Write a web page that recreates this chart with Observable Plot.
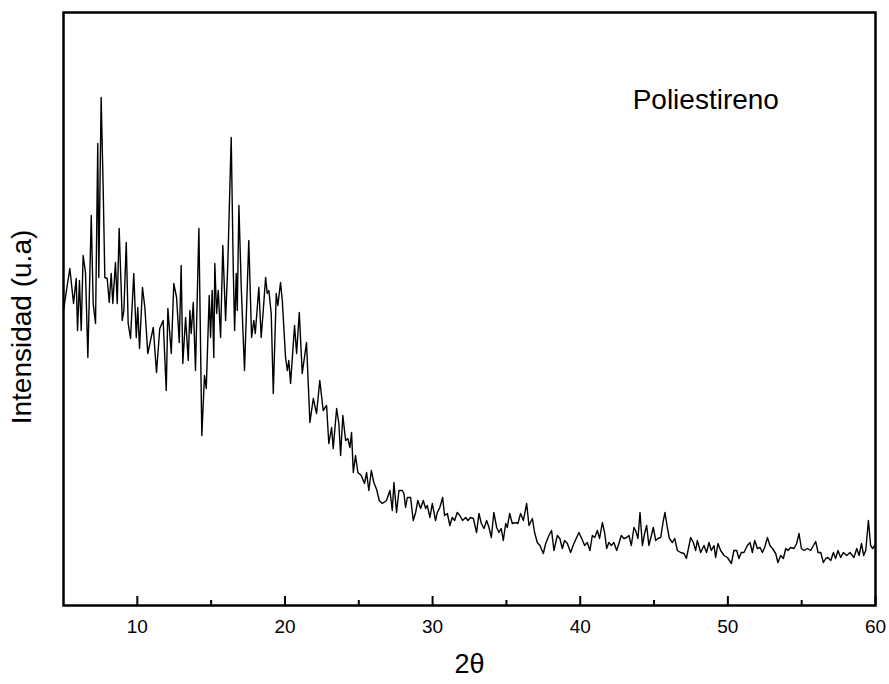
<!DOCTYPE html>
<html><head><meta charset="utf-8">
<script src="https://cdn.jsdelivr.net/npm/d3@7"></script>
<script src="https://cdn.jsdelivr.net/npm/@observablehq/plot@0.6"></script>
<style>body{margin:0;background:#fff}</style>
</head><body><div id="chart"></div>
<script>
const twoTheta = [5.00,5.20,5.43,5.68,5.86,5.95,6.08,6.20,6.33,6.49,6.65,6.88,7.01,7.17,7.32,7.39,7.55,7.69,7.80,7.96,8.10,8.23,8.34,8.52,8.64,8.77,8.98,9.09,9.25,9.38,9.54,9.76,9.93,10.03,10.15,10.35,10.51,10.71,11.08,11.30,11.52,11.75,11.96,12.07,12.30,12.47,12.66,12.84,12.97,13.08,13.27,13.45,13.56,13.65,13.79,13.94,14.17,14.37,14.55,14.67,14.87,14.96,15.07,15.18,15.25,15.37,15.48,15.64,15.79,15.98,16.13,16.36,16.50,16.59,16.70,16.77,16.88,17.04,17.26,17.55,17.74,17.89,17.99,18.23,18.39,18.53,18.69,18.80,18.91,19.07,19.21,19.41,19.52,19.70,19.82,20.04,20.16,20.26,20.38,20.65,20.79,20.97,21.17,21.46,21.69,21.92,22.14,22.36,22.59,22.82,22.97,23.16,23.27,23.50,23.65,23.77,23.92,24.11,24.26,24.40,24.51,24.63,24.78,24.94,25.17,25.39,25.53,25.68,25.85,26.02,26.21,26.39,26.59,26.88,27.11,27.27,27.38,27.56,27.72,27.95,28.06,28.17,28.29,28.51,28.69,28.85,29.00,29.19,29.37,29.53,29.64,29.82,29.98,30.20,30.32,30.49,30.68,30.81,31.00,31.17,31.33,31.49,31.67,31.85,32.03,32.24,32.39,32.57,32.76,32.98,33.14,33.30,33.48,33.66,33.82,33.98,34.15,34.34,34.49,34.65,34.79,34.95,35.06,35.22,35.40,35.62,35.78,35.96,36.15,36.37,36.53,36.76,36.91,37.09,37.27,37.50,37.66,37.88,38.06,38.22,38.45,38.62,38.79,38.94,39.13,39.35,39.57,39.76,39.91,40.10,40.30,40.48,40.66,40.82,40.98,41.16,41.31,41.50,41.65,41.79,41.94,42.11,42.28,42.47,42.62,42.78,42.96,43.14,43.30,43.46,43.64,43.75,43.91,44.05,44.21,44.36,44.50,44.65,44.82,44.95,45.11,45.26,45.45,45.63,45.74,45.90,46.04,46.24,46.40,46.58,46.80,47.03,47.19,47.37,47.48,47.66,47.82,47.93,48.16,48.38,48.56,48.72,48.88,49.06,49.17,49.33,49.51,49.74,49.97,50.24,50.41,50.60,50.75,50.91,51.09,51.32,51.50,51.66,51.82,52.00,52.18,52.34,52.49,52.68,52.85,53.02,53.24,53.39,53.58,53.76,53.92,54.07,54.25,54.48,54.66,54.82,54.98,55.16,55.39,55.61,55.95,56.11,56.29,56.47,56.63,56.78,56.97,57.15,57.30,57.46,57.64,57.82,58.05,58.27,58.54,58.73,58.89,59.05,59.20,59.34,59.52,59.67,59.81,59.95];
const intensity = [295,315,337,302,327,275,325,275,350,333,248,390,302,282,462,328,508,415,328,327,303,332,302,343,302,377,285,295,363,282,267,332,268,298,257,318,298,252,278,233,277,285,215,297,252,322,308,263,340,242,288,245,295,272,303,235,377,170,230,217,310,268,315,248,342,292,315,268,360,285,342,468,335,275,332,295,400,318,235,365,268,285,272,318,268,295,328,312,315,292,212,312,300,323,305,248,235,245,222,280,252,293,232,263,183,207,192,225,195,200,162,178,157,197,182,150,190,165,167,158,173,133,150,133,130,122,133,115,135,123,116,105,102,105,115,95,123,93,115,115,112,98,108,108,85,93,105,97,105,97,100,88,102,85,93,98,108,90,92,80,88,85,93,90,85,88,85,88,87,73,92,82,77,85,78,68,93,78,73,77,65,82,78,92,82,83,82,92,85,102,80,87,73,63,60,52,62,70,75,55,70,67,57,65,62,53,62,68,73,67,60,63,55,70,68,75,67,83,73,57,63,60,63,55,62,70,67,68,70,60,78,75,67,93,60,72,80,60,70,78,65,67,68,85,93,78,67,63,67,55,53,52,47,60,68,63,55,65,53,60,53,63,55,60,48,62,55,50,48,42,55,55,47,53,53,60,63,53,65,57,58,53,58,68,60,57,52,43,50,47,57,55,58,57,62,72,57,55,57,55,64,53,53,43,47,48,45,53,47,55,48,53,50,53,48,57,50,62,50,55,85,60,57,60];
const majorTicks = [10, 20, 30, 40, 50, 60];
const minorTicks = [15, 25, 35, 45, 55];
const xLabel = ["2θ"];
const yLabel = ["Intensidad (u.a)"];
const sampleName = ["Poliestireno"];
const sampleTheta = [43.55];
const sampleIntensity = [505];

const data = twoTheta.map((t, i) => ({t, v: intensity[i]}));

const chart = Plot.plot({
  width: 889, height: 684,
  marginLeft: 63, marginRight: 14, marginTop: 12, marginBottom: 79,
  style: {fontFamily: "'Liberation Sans', Arial, sans-serif", background: "white", color: "black"},
  x: {domain: [5, 60]},
  y: {domain: [0, 593], axis: null},
  marks: [
    Plot.line(data, {x: "t", y: "v", stroke: "black", strokeWidth: 1.4}),
    Plot.axisX({ticks: majorTicks, tickSize: -9, strokeWidth: 2, fill: "none", label: null}),
    Plot.axisX({ticks: minorTicks, tickSize: -5, strokeWidth: 2, fill: "none", label: null}),
    Plot.text(majorTicks, {x: d => d, frameAnchor: "bottom", dy: 27, fontSize: 19, text: d => String(d)}),
    Plot.frame({stroke: "black", strokeWidth: 2.5}),
    Plot.text(xLabel, {frameAnchor: "bottom", dy: 67, fontSize: 27}),
    Plot.text(yLabel, {frameAnchor: "left", textAnchor: "middle", rotate: -90, dx: -41, dy: 18, fontSize: 28}),
    Plot.text(sampleName, {x: sampleTheta, y: sampleIntensity, textAnchor: "start", fontSize: 28})
  ]
});
document.getElementById("chart").appendChild(chart);
</script>
</body></html>
